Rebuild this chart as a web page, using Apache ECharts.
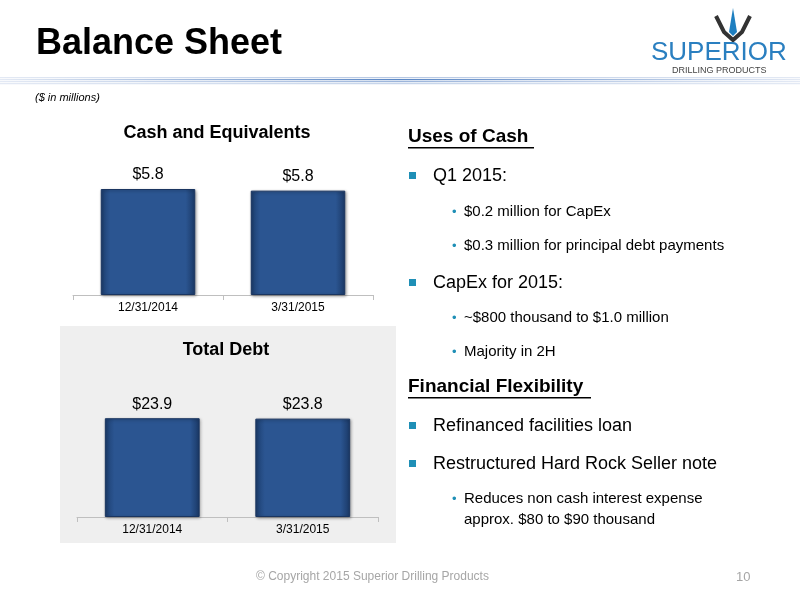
<!DOCTYPE html>
<html><head><meta charset="utf-8">
<script src="https://cdn.jsdelivr.net/npm/echarts@6/dist/echarts.min.js"></script>
<style>html,body{margin:0;padding:0;background:#fff}#c{width:800px;height:600px}</style>
</head><body><div id="c"></div>
<script>
const categories = ['12/31/2014', '3/31/2015'];
const cashValues = [5.84, 5.75];
const debtValues = [23.9, 23.8];
const chartTitles = ['Cash and Equivalents', 'Total Debt'];

const F = 'Liberation Sans, Arial, sans-serif';
const barStyle = {
  color: {type:'linear',x:0,y:0,x2:1,y2:0,colorStops:[
    {offset:0,color:'#1d3f70'},{offset:0.1,color:'#2b5591'},{offset:0.9,color:'#2b5591'},{offset:1,color:'#1a3865'}]},
  borderColor:'#1a3560', borderWidth:1,
  shadowColor:'rgba(0,0,0,0.35)', shadowBlur:3, shadowOffsetX:1, shadowOffsetY:1
};
const fmt = p => '$' + (Math.round(p.value*10)/10).toFixed(1);
const xAx = gi => ({type:'category', gridIndex:gi, data:categories,
  axisLine:{lineStyle:{color:'#bfbfbf'}}, axisTick:{show:true,lineStyle:{color:'#bfbfbf'}},
  axisLabel:{color:'#000',fontSize:12,fontFamily:F,margin:7}});
const yAx = (gi,max) => ({type:'value', gridIndex:gi, min:0, max:max, show:false});

const g = [];
// header lines
const lineCols = ['#b5c7e3','#5a86c4','#9bb4da','#c5d4ea'];
lineCols.forEach((c,i)=>g.push({type:'rect',shape:{x:0,y:77+i*2,width:800,height:1.2},
  style:{fill:{type:'linear',x:0,y:0,x2:1,y2:0,colorStops:[{offset:0,color:'#e3e9f4'},{offset:0.5,color:c},{offset:1,color:'#e3e9f4'}]}}}));
g.push({type:'text',left:36,top:26,style:{text:'Balance Sheet',font:'bold 36px '+F,fill:'#000'}});
g.push({type:'text',left:35,top:92,style:{text:'($ in millions)',font:'italic 11px '+F,fill:'#000'}});
// logo
g.push({type:'polygon',shape:{points:[[733,8],[737,32],[733,36],[729,32]]},style:{fill:'#1e7fc0'}});
g.push({type:'polyline',shape:{points:[[716,16],[724,32],[733,40],[742,32],[750,16]]},style:{stroke:'#333',lineWidth:4,fill:null}});
g.push({type:'text',left:651,top:40,style:{text:'SUPERIOR',font:'26px '+F,fill:'#2a7fc0'}});
g.push({type:'text',left:672,top:66,style:{text:'DRILLING PRODUCTS',font:'9px '+F,fill:'#444'}});
// chart 2 background
g.push({type:'rect',z:-10,shape:{x:60,y:326,width:336,height:217},style:{fill:'#efefef'}});
g.push({type:'text',style:{text:chartTitles[0],font:'bold 18px '+F,fill:'#000',x:217,y:133,align:'center',verticalAlign:'middle'}});
g.push({type:'text',style:{text:chartTitles[1],font:'bold 18px '+F,fill:'#000',x:226,y:350,align:'center',verticalAlign:'middle'}});
// right text
function txt(t,x,y,font,fill){g.push({type:'text',style:{text:t,x:x,y:y,font:font,fill:fill||'#000',verticalAlign:'middle'}});}
function head(t,y,w){txt(t,408,y,'bold 19px '+F);g.push({type:'rect',shape:{x:408,y:y+10,width:w,height:1.5},style:{fill:'#000'}});}
function b1(t,y){g.push({type:'rect',shape:{x:409,y:y-4,width:7,height:7},style:{fill:'#1f8fb6'}});txt(t,433,y,'18px '+F);}
function b2(t,y){txt('•',452,y,'13px '+F,'#1f8fb6');txt(t,464,y,'15px '+F);}
head('Uses of Cash',137,126);
b1('Q1 2015:',176);
b2('$0.2 million for CapEx',212);
b2('$0.3 million for principal debt payments',246);
b1('CapEx for 2015:',283);
b2('~$800 thousand to $1.0 million',318);
b2('Majority in 2H',352);
head('Financial Flexibility',387,183);
b1('Refinanced facilities loan',426);
b1('Restructured Hard Rock Seller note',464);
b2('Reduces non cash interest expense',499);
txt('approx. $80 to $90 thousand',464,520,'15px '+F);
// footer
txt('© Copyright 2015 Superior Drilling Products',256,577,'12px '+F,'#a6a6a6');
txt('10',736,577,'13px '+F,'#a6a6a6');

const chart = echarts.init(document.getElementById('c'));
chart.setOption({
  animation:false,
  grid:[{left:73,width:300,top:189,height:106},{left:77,width:301,top:393,height:124}],
  xAxis:[xAx(0),xAx(1)],
  yAxis:[yAx(0,5.84),yAx(1,30)],
  series:[
    {type:'bar',xAxisIndex:0,yAxisIndex:0,data:cashValues,barCategoryGap:'37%',itemStyle:barStyle,
      label:{show:true,position:'top',formatter:fmt,fontSize:16,fontFamily:F,color:'#000',distance:6}},
    {type:'bar',xAxisIndex:1,yAxisIndex:1,data:debtValues,barCategoryGap:'37%',itemStyle:barStyle,
      label:{show:true,position:'top',formatter:fmt,fontSize:16,fontFamily:F,color:'#000',distance:6}}
  ],
  graphic:g
});
</script></body></html>
